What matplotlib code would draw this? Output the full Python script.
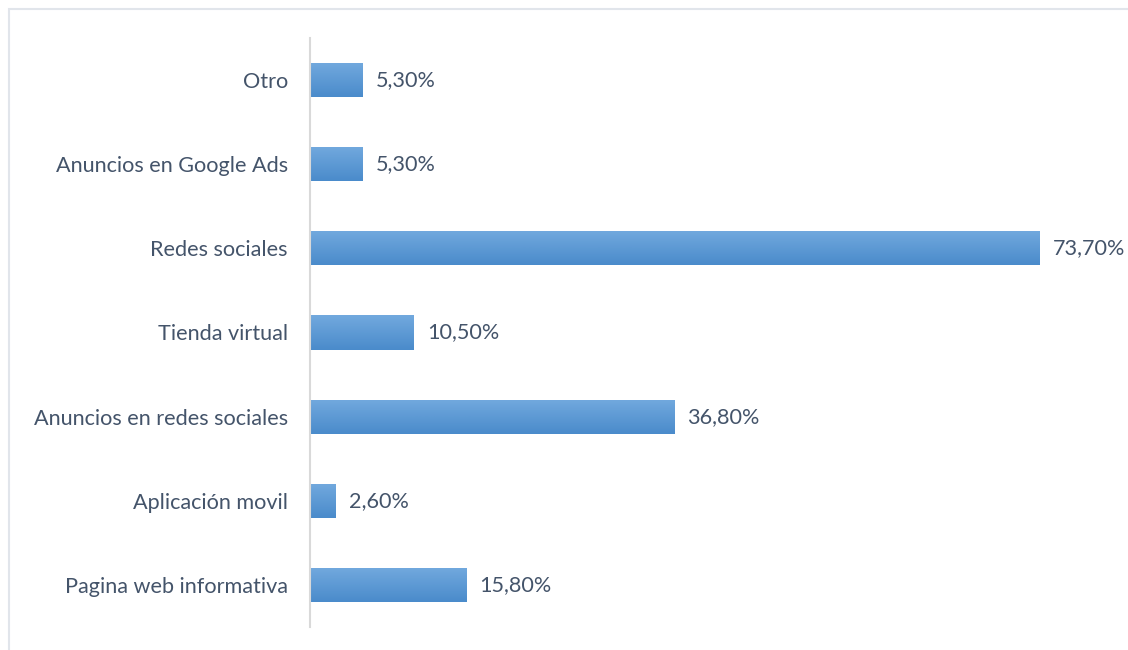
import numpy as np
import matplotlib.pyplot as plt
from matplotlib.patches import Rectangle
from matplotlib.colors import LinearSegmentedColormap

# canales de comunicación (de abajo hacia arriba)
categories = [
    "Pagina web informativa",
    "Aplicación movil",
    "Anuncios en redes sociales",
    "Tienda virtual",
    "Redes sociales",
    "Anuncios en Google Ads",
    "Otro",
]
values = [15.8, 2.6, 36.8, 10.5, 73.7, 5.3, 5.3]
labels = ["15,80%", "2,60%", "36,80%", "10,50%", "73,70%", "5,30%", "5,30%"]

plt.rcParams['font.family'] = ['Lato', 'DejaVu Sans']
text_color = "#44546a"
fs = 15.6

fig = plt.figure(figsize=(11.28, 6.5), dpi=100)
W, H = 1128, 650

# marco del gráfico
fig.patches.append(Rectangle((9 / W, -0.1), 1.2, (H - 9) / H + 0.1,
                             transform=fig.transFigure, fill=False,
                             edgecolor="#e1e5eb", linewidth=1.5))

ax = fig.add_axes([310 / W, 23 / H, 792 / W, 589 / H])

y = np.arange(len(categories))
bars = ax.barh(y, values, height=0.405, color="#5b9bd5", linewidth=0)

# degradado vertical en cada barra
cmap = LinearSegmentedColormap.from_list("azul", ["#4a8bcb", "#72a9de"])
grad = np.linspace(0, 1, 100).reshape(-1, 1)
for b in bars:
    x0, y0 = b.get_x(), b.get_y()
    im = ax.imshow(grad, cmap=cmap, aspect="auto", origin="lower",
                   extent=[x0, x0 + b.get_width(), y0, y0 + b.get_height()],
                   zorder=2)
    im.set_clip_path(b)

for yi, v, lab in zip(y, values, labels):
    ax.text(v + 1.3, yi, lab, va="center", ha="left", fontsize=fs,
            color=text_color)

ax.set_yticks(y)
ax.set_yticklabels(categories, fontsize=fs, color=text_color)
ax.tick_params(axis="y", length=0, pad=16)
ax.set_xticks([])
for s in ["top", "right", "bottom"]:
    ax.spines[s].set_visible(False)
ax.spines["left"].set_color("#d9d9d9")
ax.spines["left"].set_linewidth(1.5)
ax.set_xlim(0, 80)
ax.set_ylim(-0.5, len(categories) - 0.5)

fig.savefig("out.png", dpi=100)
